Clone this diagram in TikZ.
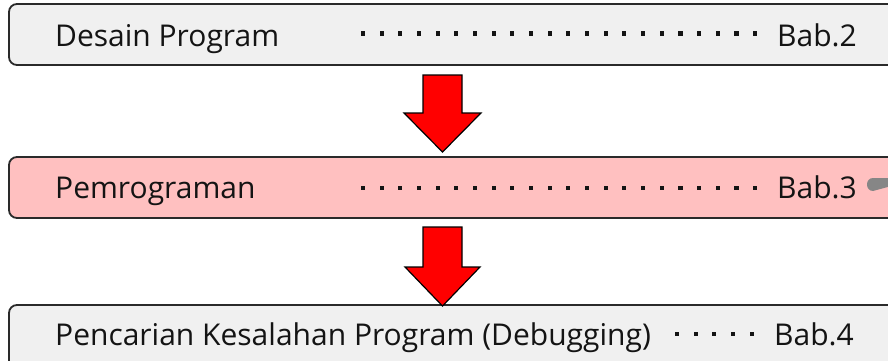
\documentclass[tikz,border=0pt]{standalone}
\usepackage{fontspec}
\setmainfont{Open Sans}
\definecolor{boxgray}{HTML}{F0F0F0}
\definecolor{boxpink}{HTML}{FFC0C0}
\definecolor{edge}{HTML}{2A2A2A}
\definecolor{txt}{HTML}{141414}
\begin{document}
\begin{tikzpicture}[x=1pt,y=-1pt,
  stagebox/.style={draw=edge,line width=1.8pt,rounded corners=8pt},
  label/.style={anchor=base west,inner sep=0pt,text=txt,font=\fontsize{30}{32}\selectfont},
  blockarrow/.style={fill=red,draw=black,line width=1.2pt,line join=miter}]
\useasboundingbox (0,0) rectangle (888,361);
\clip (0,0) rectangle (888,361);
% boxes
\draw[stagebox,fill=boxgray] (9,4) rectangle (920,65);
\draw[stagebox,fill=boxpink] (9,157) rectangle (920,218);
\draw[stagebox,fill=boxgray] (9,305) rectangle (920,390);
% labels
\node[label] (t1) at (55,47) {Desain Program};
\node[label] (b1) at (777,47) {Bab.2};
\node[label] (t2) at (55,198) {Pemrograman};
\node[label] (b2) at (777,198) {Bab.3};
\node[label] (t3) at (55,345) {Pencarian Kesalahan Program (Debugging)};
\node[label] (b3) at (774,345) {Bab.4};
% dot leaders
\foreach \i in {0,...,21} {
  \fill[txt] ({363+\i*18.67-2.1},31.5) rectangle ++(4.2,4.2);
  \fill[txt] ({363+\i*18.67-2.1},185.5) rectangle ++(4.2,4.2);
}
\foreach \i in {0,...,4} {
  \fill[txt] ({677+\i*18.67-2.1},331.5) rectangle ++(4.2,4.2);
}
% block arrows
\draw[blockarrow] (423,75) -- (462,75) -- (462,113) -- (481,113) -- (442.5,152)
  -- (404,113) -- (423,113) -- cycle;
\draw[blockarrow] (423,227) -- (462,227) -- (462,267) -- (480,267) -- (442.5,306)
  -- (405,267) -- (423,267) -- cycle;
% gray pointer at right edge
\fill[gray!95] (873,178) -- (895,178) -- (895,185) -- (873,191)
  .. controls (865,191) and (865,178) .. (873,178) -- cycle;
\end{tikzpicture}
\end{document}
